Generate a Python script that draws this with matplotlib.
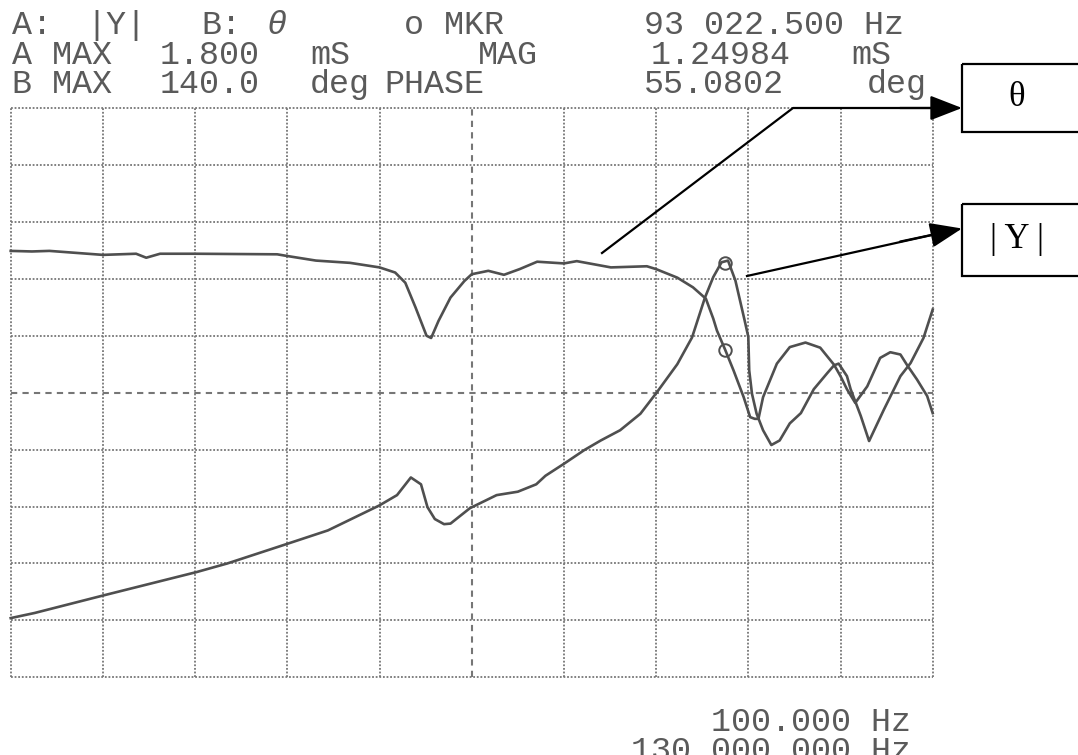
import matplotlib.pyplot as plt
from matplotlib.patches import Rectangle

# traces, in screen divisions (10 x 10 grid)
mag_x = [0.00, 0.26, 1.01, 2.02, 2.35, 3.01, 3.44, 4.00, 4.19, 4.34, 4.45,
         4.52, 4.60, 4.70, 4.77, 4.98, 5.27, 5.50, 5.70, 5.80, 6.00, 6.22,
         6.40, 6.61, 6.83, 7.01, 7.23, 7.39, 7.53, 7.62, 7.71, 7.78, 7.86,
         7.96, 8.00, 8.01, 8.04, 8.09, 8.16, 8.25, 8.34, 8.45, 8.57, 8.71,
         8.86, 8.93, 8.98, 9.07, 9.11, 9.22, 9.31, 9.47, 9.65, 9.76, 9.90,
         10.00]
mag_y = [1.04, 1.13, 1.44, 1.85, 2.00, 2.35, 2.58, 3.02, 3.20, 3.51, 3.39,
         2.99, 2.78, 2.69, 2.70, 2.97, 3.20, 3.26, 3.39, 3.54, 3.75, 3.99,
         4.16, 4.34, 4.63, 5.01, 5.50, 5.97, 6.67, 7.03, 7.29, 7.32, 6.97,
         6.27, 5.98, 5.39, 4.98, 4.63, 4.34, 4.08, 4.16, 4.46, 4.64, 5.06,
         5.35, 5.48, 5.51, 5.29, 5.06, 4.59, 4.15, 4.70, 5.29, 5.52, 5.96,
         6.46]

theta_x = [0.00, 0.23, 0.42, 1.00, 1.36, 1.47, 1.62, 2.00, 2.89, 3.00, 3.31,
           3.68, 4.00, 4.17, 4.28, 4.39, 4.51, 4.56, 4.64, 4.77, 4.92, 5.00,
           5.18, 5.35, 5.52, 5.71, 6.00, 6.14, 6.51, 6.90, 7.00, 7.23, 7.40,
           7.54, 7.62, 7.66, 7.75, 7.84, 7.95, 8.02, 8.07, 8.11, 8.16, 8.31,
           8.45, 8.62, 8.78, 8.93, 9.00, 9.07, 9.16, 9.29, 9.43, 9.54, 9.65,
           9.72, 9.83, 9.94, 10.00]
theta_y = [7.49, 7.48, 7.49, 7.42, 7.44, 7.37, 7.44, 7.44, 7.43, 7.40, 7.32,
           7.28, 7.20, 7.11, 6.93, 6.50, 6.00, 5.96, 6.26, 6.67, 6.96, 7.08,
           7.14, 7.07, 7.17, 7.30, 7.27, 7.31, 7.20, 7.22, 7.17, 7.02, 6.85,
           6.65, 6.30, 6.09, 5.75, 5.39, 4.92, 4.57, 4.54, 4.54, 4.92, 5.51,
           5.80, 5.88, 5.79, 5.49, 5.29, 5.06, 4.82, 5.11, 5.61, 5.71, 5.67,
           5.49, 5.23, 4.94, 4.64]

marker_x = 7.75
marker_mag = 7.27
marker_theta = 5.75

header_rows = [
    [("A:", 12), ("|Y|", 86), ("B:", 201), ("o MKR", 404), ("93 022.500 Hz", 644)],
    [("A MAX", 12), ("1.800", 160), ("mS", 310), ("MAG", 478), ("1.24984", 651), ("mS", 851)],
    [("B MAX", 12), ("140.0", 160), ("deg", 310), ("PHASE", 384), ("55.0802", 644), ("deg", 867)],
]
header_base = [34, 64, 93]
footer = ["100.000 Hz", "130 000.000 Hz"]

ink = "#4f4f4f"
grid_c = "#767676"

fig = plt.figure(figsize=(10.78, 7.55), dpi=100)

ax = fig.add_axes([10.7 / 1078, 1 - 677.3 / 755, 922 / 1078, 569.3 / 755])
ax.set_xlim(0, 10)
ax.set_ylim(0, 10)
ax.axis("off")
for i in range(11):
    ls = (0, (3, 2.5)) if i == 5 else (0, (1, 1))
    lw = 1.5 if i == 5 else 1.3
    ax.axvline(i, color=grid_c, lw=lw, ls=ls, clip_on=False)
    ax.axhline(i, color=grid_c, lw=lw, ls=ls, clip_on=False)

ax.plot(mag_x, mag_y, color=ink, lw=1.9, clip_on=False)
ax.plot(theta_x, theta_y, color=ink, lw=1.9, clip_on=False)
ax.plot([marker_x, marker_x], [marker_mag, marker_theta], "o", mfc="none",
        mec=ink, ms=9, mew=1.4, clip_on=False)

# overlay in pixel coordinates for the printed text and the callouts
ov = fig.add_axes([0, 0, 1, 1])
ov.set_xlim(0, 1078)
ov.set_ylim(755, 0)
ov.axis("off")

mono = dict(family="Liberation Mono", fontsize=24, color="#5a5a5a", va="baseline")
for row, base in zip(header_rows, header_base):
    for txt, x in row:
        ov.text(x, base, txt, ha="left", **mono)
ov.text(266, header_base[0], "\u03b8", ha="left", style="italic", **mono)
ov.text(911, 731, footer[0], ha="right", **mono)
ov.text(911, 760, footer[1], ha="right", **mono)

# callout boxes
for top, h, label in [(64, 68, "\u03b8"), (204, 72, "| Y |")]:
    ov.add_patch(Rectangle((962, top), 140, h, fill=False, ec="black", lw=1.6))
    ov.text(1017, top + h / 2, label, ha="center", va="center",
            family="Liberation Serif", fontsize=25, color="black")

ov.plot([602, 793, 950], [253, 108, 108], color="black", lw=1.6)
ov.plot([747, 950], [276, 231], color="black", lw=1.6)
arrow = dict(arrowstyle="-|>,head_length=0.9,head_width=0.35", color="black",
             lw=1.6, mutation_scale=22, shrinkA=0, shrinkB=0)
ov.annotate("", xy=(962, 108), xytext=(900, 108), arrowprops=arrow)
ov.annotate("", xy=(962, 228.5), xytext=(900, 241.6), arrowprops=arrow)

fig.savefig("out.png", dpi=100)
